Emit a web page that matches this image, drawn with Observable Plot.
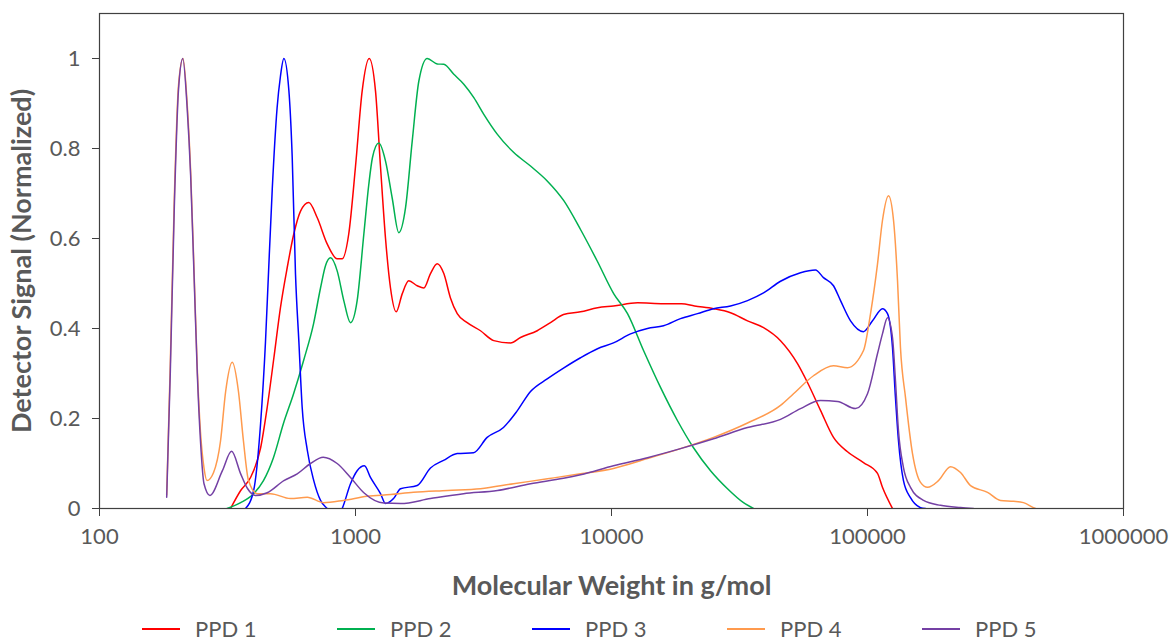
<!DOCTYPE html>
<html>
<head>
<meta charset="utf-8">
<script src="https://cdn.jsdelivr.net/npm/d3@7"></script>
<script src="https://cdn.jsdelivr.net/npm/@observablehq/plot@0.6"></script>
<style>
  html, body { margin: 0; padding: 0; background: #fff; }
  body { width: 1170px; height: 643px; overflow: hidden; font-family: Lato, "Open Sans", sans-serif; }
  #chart svg { display: block; }
  #chart g[aria-label$="tick label"] { fill: #595959; font-size: 22px; }
  #chart g[aria-label="x-axis label"], #chart g[aria-label="y-axis label"] { font-size: 27px; font-weight: bold; fill: #595959; }
  #legend { display: flex; margin-top: 16px; padding-left: 142px; height: 26px; align-items: center; }
  #legend .item { width: 195px; display: flex; align-items: center; font-size: 22px; line-height: 26px; color: #595959; }
  #legend .sw { width: 38px; height: 2px; margin-right: 15px; }
</style>
</head>
<body>
<div id="chart"></div>
<div id="legend"></div>
<script>
// ---- Data (molecular weight g/mol, normalized detector signal) ----
const seriesNames = ["PPD 1", "PPD 2", "PPD 3", "PPD 4", "PPD 5"];
const seriesColors = ["#FF0000", "#00B050", "#0000FF", "#FF9A4D", "#7440A4"];
const xTicks = [100, 1000, 10000, 100000, 1000000];
const yTicks = [0, 0.2, 0.4, 0.6, 0.8, 1];

const ppd1 = [[325,0],[356,0.04],[389,0.069],[426,0.135],[452,0.225],[480,0.335],[509,0.446],[541,0.535],[574,0.61],[610,0.661],[657,0.68],[709,0.646],[775,0.588],[848,0.555],[887,0.555],[941,0.61],[1000,0.76],[1062,0.928],[1131,1.0],[1197,0.928],[1252,0.76],[1310,0.6],[1370,0.49],[1442,0.437],[1522,0.477],[1615,0.506],[1742,0.495],[1849,0.49],[1963,0.522],[2085,0.544],[2213,0.522],[2349,0.468],[2497,0.433],[2731,0.413],[3078,0.395],[3469,0.373],[4032,0.368],[4411,0.38],[5127,0.395],[5777,0.413],[6494,0.431],[7568,0.437],[8818,0.446],[10180,0.45],[12640,0.457],[15970,0.455],[18770,0.455],[21100,0.45],[25030,0.444],[29160,0.435],[33990,0.417],[39260,0.402],[45730,0.373],[53280,0.322],[58290,0.28],[65530,0.218],[73650,0.158],[83540,0.126],[96460,0.102],[109400,0.078],[114400,0.047],[125200,0]];

const ppd2 = [[315,0],[356,0.013],[400,0.033],[437,0.062],[478,0.113],[523,0.189],[573,0.255],[627,0.329],[686,0.411],[730,0.49],[764,0.54],[799,0.557],[848,0.528],[900,0.462],[956,0.413],[1015,0.462],[1078,0.61],[1127,0.72],[1165,0.78],[1233,0.812],[1310,0.772],[1391,0.69],[1476,0.613],[1568,0.668],[1666,0.817],[1768,0.95],[1906,1.0],[2085,0.988],[2213,0.987],[2421,0.965],[2649,0.943],[2899,0.913],[3171,0.876],[3577,0.832],[4153,0.791],[4827,0.761],[5608,0.728],[6511,0.684],[7568,0.62],[8794,0.55],[10210,0.477],[11550,0.433],[13340,0.351],[15540,0.269],[18110,0.195],[20910,0.135],[24370,0.084],[28390,0.044],[32780,0.013],[35860,0]];

const ppd3 = [[372,0],[400,0.04],[426,0.19],[445,0.37],[457,0.52],[473,0.71],[494,0.89],[509,0.96],[525,1.0],[549,0.93],[566,0.78],[583,0.52],[601,0.37],[619,0.225],[648,0.13],[687,0.062],[730,0.018],[775,0],[836,-0.02],[887,0],[956,0.055],[1015,0.084],[1084,0.095],[1144,0.069],[1252,0.033],[1310,0.011],[1408,0.022],[1499,0.044],[1742,0.051],[1963,0.09],[2207,0.107],[2497,0.122],[2891,0.124],[3269,0.158],[3785,0.18],[4281,0.217],[4827,0.26],[5608,0.288],[6494,0.312],[7568,0.335],[8818,0.355],[10180,0.368],[11870,0.388],[13820,0.4],[15970,0.406],[18600,0.422],[21670,0.433],[25030,0.444],[29160,0.45],[33990,0.462],[39260,0.479],[45730,0.505],[54740,0.524],[62640,0.53],[67300,0.513],[73650,0.495],[78460,0.462],[85850,0.417],[96460,0.393],[104600,0.417],[114400,0.444],[119700,0.433],[125200,0.358],[128600,0.246],[132100,0.151],[138200,0.062],[147200,0.024],[161100,0.002],[168500,0]];

const ppd4 = [[183,0.03],[189,0.32],[196,0.69],[203.5,0.94],[212,1.0],[220,0.9],[227,0.75],[234,0.53],[241,0.31],[248,0.17],[256,0.09],[263,0.062],[279,0.08],[297,0.15],[311,0.26],[330,0.325],[349,0.26],[365,0.15],[382,0.062],[413,0.033],[466,0.033],[557,0.022],[648,0.025],[750,0.013],[898,0.018],[1111,0.027],[1370,0.031],[1685,0.036],[2288,0.04],[3078,0.044],[4142,0.055],[5623,0.066],[7568,0.077],[10180,0.089],[13820,0.111],[18600,0.133],[25030,0.158],[33990,0.19],[45730,0.229],[51400,0.255],[61520,0.295],[73650,0.317],[83540,0.313],[96460,0.351],[102700,0.432],[109400,0.543],[114400,0.64],[120800,0.695],[126400,0.64],[131000,0.506],[134500,0.358],[140800,0.246],[149900,0.122],[161100,0.058],[171600,0.047],[189400,0.062],[211000,0.093],[230900,0.08],[252600,0.051],[294300,0.036],[330800,0.018],[371800,0.016],[406800,0.013],[445000,0.002],[453200,0]];

const ppd5 = [[183,0.025],[189,0.3],[196,0.67],[203.5,0.93],[211.5,1.0],[220,0.89],[227,0.74],[234,0.52],[241,0.3],[248,0.15],[256,0.055],[270,0.029],[302,0.084],[328,0.127],[356,0.077],[378,0.045],[407,0.029],[452,0.035],[525,0.062],[592,0.077],[667,0.1],[748,0.114],[848,0.1],[956,0.069],[1078,0.035],[1290,0.012],[1499,0.011],[1963,0.022],[2642,0.033],[3586,0.04],[4827,0.055],[6494,0.067],[7568,0.075],[10180,0.095],[13820,0.113],[18600,0.133],[25030,0.155],[33990,0.18],[45730,0.198],[54740,0.222],[65530,0.24],[76360,0.238],[89800,0.222],[100000,0.255],[109400,0.344],[114400,0.388],[119700,0.424],[125200,0.38],[128600,0.284],[132100,0.173],[138200,0.091],[147200,0.047],[165500,0.018],[192900,0.007],[230900,0.002],[259500,0]];

// ---- Build table ----
const allSeries = [ppd1, ppd2, ppd3, ppd4, ppd5];
const data = allSeries.flatMap((s, i) => s.map(([mw, signal]) => ({series: seriesNames[i], mw, signal})));

const chart = Plot.plot({
  width: 1170,
  height: 600,
  marginLeft: 99,
  marginRight: 47,
  marginTop: 13,
  marginBottom: 92,
  style: {fontFamily: "Lato, 'Open Sans', sans-serif", fontSize: "22px", color: "#404040", background: "#fff", overflow: "visible"},
  x: {type: "log", domain: [100, 1000000]},
  y: {domain: [0, 1.1]},
  color: {domain: seriesNames, range: seriesColors},
  marks: [
    Plot.axisX({ticks: xTicks, tickFormat: d => String(d), tickSize: 8, tickPadding: 12,
      label: "Molecular Weight in g/mol", labelAnchor: "center", labelOffset: 86, labelArrow: "none"}),
    Plot.axisY({ticks: yTicks, tickFormat: d => String(+d.toFixed(1)), tickSize: 7, tickPadding: 12,
      label: "Detector Signal (Normalized)", labelAnchor: "center", labelOffset: 88, labelArrow: "none"}),
    Plot.line(data, {x: "mw", y: "signal", z: "series", stroke: "series", strokeWidth: 1.5, curve: "monotone-x", clip: true}),
    Plot.frame({stroke: "#404040", strokeWidth: 1.2})
  ]
});
document.getElementById("chart").appendChild(chart);

// ---- Legend (HTML, below the SVG) ----
const legend = document.getElementById("legend");
seriesNames.forEach((name, i) => {
  const item = document.createElement("div");
  item.className = "item";
  const sw = document.createElement("span");
  sw.className = "sw";
  sw.style.background = seriesColors[i];
  const t = document.createElement("span");
  t.textContent = name;
  item.appendChild(sw);
  item.appendChild(t);
  legend.appendChild(item);
});
</script>
</body>
</html>
